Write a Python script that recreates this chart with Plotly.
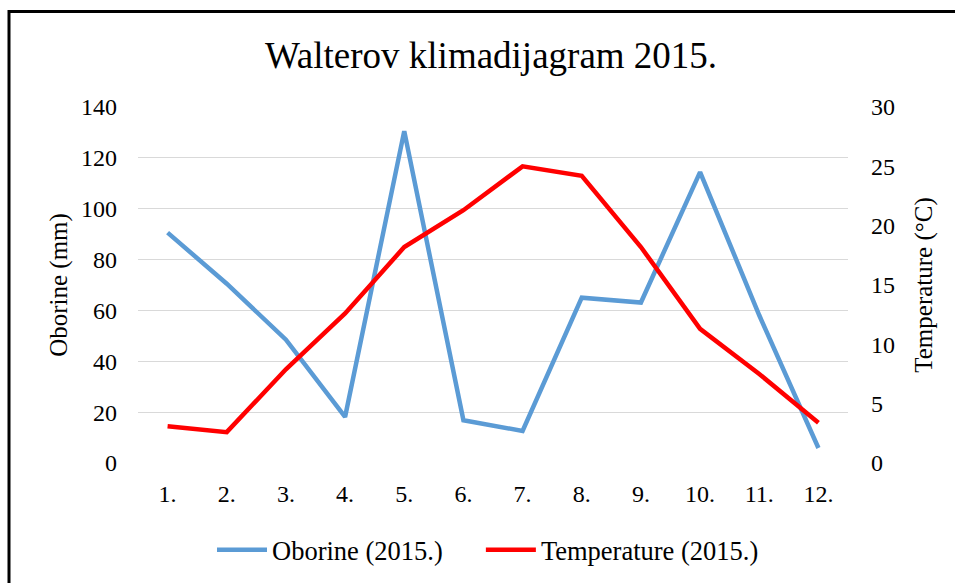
import plotly.graph_objects as go

months = ["1.", "2.", "3.", "4.", "5.", "6.", "7.", "8.", "9.", "10.", "11.", "12."]
oborine = [90.6, 70.5, 48.5, 18.1, 130.5, 16.8, 12.6, 65.0, 63.1, 114.4, 58.1, 5.9]
temperature = [3.1, 2.6, 7.9, 12.6, 18.2, 21.3, 25.0, 24.2, 18.2, 11.3, 7.5, 3.4]
left_ticks = [0, 20, 40, 60, 80, 100, 120, 140]
right_ticks = [0, 5, 10, 15, 20, 25, 30]

FONT = "Liberation Serif"
W, H = 955, 583
L, R, T, B = 138, 107, 107, 120
PW, PH = W - L - R, H - T - B

def px_x(p):
    return (p - L) / PW

def px_y(p):
    return (H - B - p) / PH

fig = go.Figure()
fig.add_trace(go.Scatter(x=months, y=oborine, mode="lines",
                         name="Oborine (2015.)" + "\u00a0" * 5,
                         line=dict(color="#5B9BD5", width=4.5)))
fig.add_trace(go.Scatter(x=months, y=temperature, mode="lines", name="Temperature (2015.)",
                         line=dict(color="#FF0000", width=4.5), yaxis="y2"))

fig.update_layout(
    width=W, height=H,
    margin=dict(l=L, r=R, t=T, b=B),
    paper_bgcolor="white", plot_bgcolor="white",
    font=dict(family=FONT, size=24, color="#000000"),
    title=dict(text="Walterov klimadijagram 2015.", x=491 / W, xref="container", xanchor="center",
               y=1 - 55 / H, yref="container", yanchor="middle",
               font=dict(family=FONT, size=37, color="#000000")),
    xaxis=dict(type="category", range=[-0.5, 11.5], showgrid=False, zeroline=False,
               showline=False, ticks="", ticklabelstandoff=14,
               tickfont=dict(family=FONT, size=24, color="#000000")),
    yaxis=dict(range=[0, 140], tickvals=left_ticks, showgrid=True, gridcolor="#D9D9D9",
               gridwidth=1.3, zeroline=False, showline=False, ticks="",
               ticklabelstandoff=20,
               tickfont=dict(family=FONT, size=24, color="#000000"),
               title=dict(text="Oborine (mm)", standoff=6,
                          font=dict(family=FONT, size=25, color="#000000"))),
    yaxis2=dict(range=[0, 30], tickvals=right_ticks, overlaying="y", side="right",
                showgrid=False, zeroline=False, showline=False, ticks="",
                ticklabelstandoff=22,
                tickfont=dict(family=FONT, size=24, color="#000000"),
                title=dict(text="Temperature (°C)", standoff=20,
                           font=dict(family=FONT, size=25, color="#000000"))),
    legend=dict(orientation="h", xref="container", x=212 / W, xanchor="left",
                yref="container", y=1 - 550 / H, yanchor="middle",
                font=dict(family=FONT, size=26.5, color="#000000"),
                itemwidth=50, bgcolor="rgba(0,0,0,0)"),
    showlegend=True,
)

# outer frame (top and left edges visible in the reference)
fig.add_shape(type="line", xref="paper", yref="paper",
              x0=px_x(9), x1=px_x(W + 50), y0=px_y(11.5), y1=px_y(11.5),
              line=dict(color="#000000", width=3), layer="below")
fig.add_shape(type="line", xref="paper", yref="paper",
              x0=px_x(9), x1=px_x(9), y0=px_y(10), y1=px_y(H + 50),
              line=dict(color="#000000", width=3), layer="below")

fig.write_html("out.html", config={"displayModeBar": False},
               post_script="document.body.style.margin='0';document.body.style.overflow='hidden';")
